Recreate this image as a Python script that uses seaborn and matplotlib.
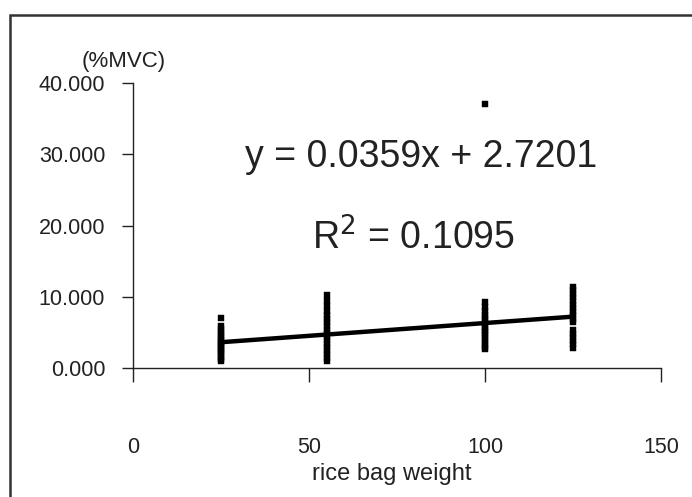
import numpy as np
import pandas as pd
import matplotlib
matplotlib.use("Agg")
import matplotlib.pyplot as plt
from matplotlib.patches import Rectangle
import seaborn as sns

# ---- data ----
weights = [25, 55, 100, 125]
mvc_25 = [7.0, 5.9, 5.5, 5.1, 4.7, 4.3, 4.0, 3.7, 3.4, 3.1, 2.8, 2.5, 2.2, 1.9, 1.6, 1.3, 1.0]
mvc_55 = [10.2, 9.4, 8.7, 8.0, 7.4, 6.9, 6.4, 5.9, 5.4, 4.9, 4.4, 3.9, 3.4, 2.9, 2.4, 1.9, 1.4, 1.0]
mvc_100 = [37.0, 9.3, 8.5, 8.0, 7.5, 7.0, 6.6, 6.2, 5.8, 5.4, 5.0, 4.6, 4.2, 3.8, 3.4, 3.0, 2.6]
mvc_125 = [11.4, 10.9, 10.4, 9.9, 9.4, 8.9, 8.4, 7.9, 7.4, 6.9, 6.5, 5.3, 4.8, 4.3, 3.8, 3.3, 2.8]
slope = 0.0359
intercept = 2.7201
r_squared = 0.1095
x_ticks = [0, 50, 100, 150]
y_ticks = [0, 10, 20, 30, 40]
x_label = "rice bag weight"
y_label = "(%MVC)"

groups = [mvc_25, mvc_55, mvc_100, mvc_125]
df = pd.DataFrame({
    "weight": np.concatenate([[w] * len(g) for w, g in zip(weights, groups)]),
    "mvc": np.concatenate(groups),
})
fit_x = np.array([min(weights), max(weights)], dtype=float)
fit = pd.DataFrame({"weight": fit_x, "mvc": slope * fit_x + intercept})

sns.set_theme(style="white")
plt.rcParams["font.family"] = ["Liberation Sans", "DejaVu Sans"]

fig = plt.figure(figsize=(6.92, 4.97), dpi=100)
ax = fig.add_axes([133 / 692, 1 - 368 / 497, (661 - 133) / 692, (368 - 83) / 497])

sns.scatterplot(data=df, x="weight", y="mvc", ax=ax, marker="s", s=14,
                color="black", edgecolor="black", linewidth=0.3, zorder=3)
sns.lineplot(data=fit, x="weight", y="mvc", ax=ax, color="black",
             linewidth=3.2, zorder=4)

ax.set_xlim(0, 150)
ax.set_ylim(0, 40)
ax.set_xticks(x_ticks)
ax.set_yticks(y_ticks)
ax.set_xticklabels([str(v) for v in x_ticks])
ax.set_yticklabels([f"{v:.3f}" for v in y_ticks])
ax.tick_params(axis="y", direction="out", length=8, width=1, pad=12,
               labelsize=15.5, colors="#222222", left=True)
ax.tick_params(axis="x", direction="out", length=10, width=1, pad=40,
               labelsize=15.5, colors="#222222", bottom=True)
for side in ["top", "right"]:
    ax.spines[side].set_visible(False)
for side in ["left", "bottom"]:
    ax.spines[side].set_color("#222222")
    ax.spines[side].set_linewidth(1.0)

ax.set_xlabel(x_label, fontsize=17, color="#222222", labelpad=3)
ax.xaxis.set_label_coords(0.49, -0.335)
ax.set_ylabel("")
fig.text(82 / 692, 1 - 61 / 497, y_label, fontsize=16, color="#222222",
         va="center", ha="left")

ax.text(0.546, 0.74, f"y = {slope:.4f}x + {intercept:.4f}", transform=ax.transAxes,
        fontsize=27, color="#222222", ha="center", va="center")
ax.text(0.532, 0.455, f"R$^2$ = {r_squared:.4f}", transform=ax.transAxes,
        fontsize=27, color="#222222", ha="center", va="center")

fig.add_artist(Rectangle((10 / 692, -0.2), 2, 1.2 - 15 / 497, transform=fig.transFigure,
                         fill=False, edgecolor="#333333", linewidth=1.8))

fig.savefig("out.png", dpi=100, facecolor="white")
